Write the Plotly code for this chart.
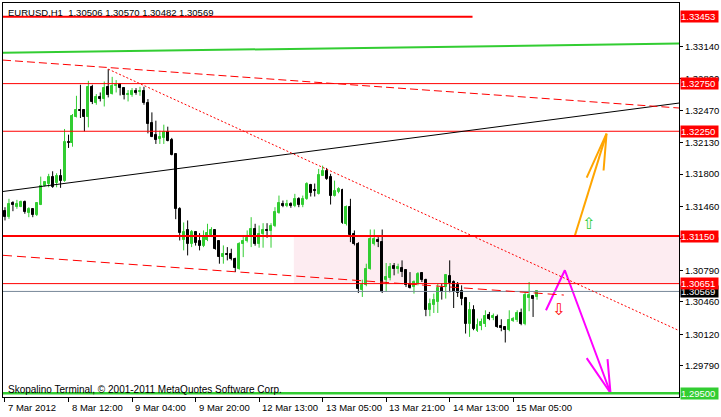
import plotly.graph_objects as go

# ---------------- data (EURUSD H1, bar index 0 = 7 Mar 2012 20:00) ----------------
opens = [1.31418,1.31348,1.31495,1.31460,1.31460,1.31505,1.31390,1.31429,1.31366,1.31481,
         1.31680,1.31698,1.31767,1.31704,1.31785,1.31725,1.32133,1.32123,1.32403,1.32473,
         1.32473,1.32395,1.32717,1.32549,1.32605,1.32584,1.32717,1.32640,1.32727,1.32745,
         1.32703,1.32626,1.32633,1.32675,1.32657,1.32675,1.32549,1.32332,1.32214,1.32169,
         1.32180,1.32238,1.32159,1.32012,1.31439,1.31104,1.31209,1.31062,1.31191,1.31097,
         1.31049,1.31104,1.31157,1.31209,1.31094,1.30929,1.30965,1.30958,1.30913,1.30808,
         1.31062,1.31097,1.31146,1.31227,1.31070,1.31167,1.31209,1.31202,1.31251,1.31390,
         1.31488,1.31468,1.31488,1.31468,1.31537,1.31471,1.31541,1.31691,1.31638,1.31593,
         1.31785,1.31830,1.31767,1.31575,1.31610,1.31635,1.31272,1.31460,1.31167,1.31062,
         1.30588,1.30633,1.30808,1.31070,1.31104,1.31086,1.30685,1.30714,1.30832,1.30808,
         1.30818,1.30790,1.30651,1.30615,1.30651,1.30762,1.30693,1.30371,1.30424,1.30458,
         1.30609,1.30615,1.30727,1.30668,1.30633,1.30570,1.30500,1.30232,1.30371,1.30151,
         1.30207,1.30232,1.30319,1.30291,1.30301,1.30207,1.30196,1.30162,1.30256,1.30267,
         1.30347,1.30232,1.30500,1.30518,1.30506]
highs = [1.31453,1.31541,1.31516,1.31530,1.31523,1.31523,1.31453,1.31435,1.31505,1.31774,
         1.31725,1.31803,1.31830,1.31809,1.31851,1.32274,1.32214,1.32431,1.32622,1.32738,
         1.32478,1.32779,1.32738,1.32640,1.32657,1.32772,1.32902,1.32821,1.32787,1.32751,
         1.32709,1.32682,1.32703,1.32703,1.32717,1.32717,1.32588,1.32448,1.32361,1.32256,
         1.32319,1.32298,1.32180,1.32018,1.31453,1.31293,1.31314,1.31214,1.31202,1.31181,
         1.31209,1.31279,1.31243,1.31214,1.31099,1.31052,1.31034,1.31017,1.30923,1.31086,
         1.31157,1.31209,1.31348,1.31279,1.31261,1.31285,1.31285,1.31285,1.31453,1.31575,
         1.31523,1.31530,1.31505,1.31593,1.31558,1.31575,1.31715,1.31698,1.31701,1.31855,
         1.31889,1.31865,1.31803,1.31732,1.31662,1.31646,1.31471,1.31541,1.31209,1.31086,
         1.30693,1.30860,1.31219,1.31219,1.31139,1.31219,1.30867,1.30867,1.30867,1.30860,
         1.30895,1.30797,1.30772,1.30685,1.30772,1.30772,1.30703,1.30494,1.30546,1.30651,
         1.30651,1.30745,1.30895,1.30685,1.30668,1.30633,1.30511,1.30458,1.30424,1.30284,
         1.30284,1.30371,1.30354,1.30337,1.30326,1.30277,1.30200,1.30371,1.30301,1.30371,
         1.30389,1.30563,1.30668,1.30522,1.30570]
lows = [1.31314,1.31331,1.31411,1.31436,1.31453,1.31384,1.31348,1.31348,1.31360,1.31475,
        1.31670,1.31662,1.31656,1.31662,1.31656,1.31720,1.32075,1.32088,1.32395,1.32389,
        1.32249,1.32291,1.32535,1.32528,1.32563,1.32510,1.32605,1.32635,1.32657,1.32626,
        1.32584,1.32563,1.32612,1.32633,1.32622,1.32528,1.32228,1.32188,1.32117,1.32117,
        1.32117,1.32144,1.31997,1.31327,1.31104,1.31000,1.30947,1.31034,1.31050,1.31000,
        1.31034,1.31097,1.31139,1.31007,1.30860,1.30860,1.30895,1.30895,1.30772,1.30797,
        1.30929,1.31083,1.31034,1.31049,1.31028,1.31028,1.31132,1.31028,1.31244,1.31384,
        1.31453,1.31453,1.31447,1.31453,1.31453,1.31453,1.31530,1.31565,1.31565,1.31586,
        1.31780,1.31740,1.31481,1.31565,1.31599,1.31279,1.31261,1.31086,1.31052,1.30552,
        1.30511,1.30623,1.30797,1.31052,1.31034,1.30552,1.30563,1.30685,1.30738,1.30756,
        1.30720,1.30615,1.30599,1.30546,1.30633,1.30668,1.30309,1.30309,1.30343,1.30343,
        1.30483,1.30494,1.30560,1.30395,1.30511,1.30424,1.30127,1.30092,1.30162,1.30144,
        1.30162,1.30196,1.30267,1.30267,1.30186,1.30151,1.30033,1.30151,1.30249,1.30249,
        1.30214,1.30214,1.30361,1.30301,1.30482]
closes = [1.31348,1.31488,1.31474,1.31488,1.31505,1.31400,1.31429,1.31366,1.31495,1.31680,
          1.31715,1.31767,1.31670,1.31785,1.31725,1.32133,1.32123,1.32413,1.32473,1.32458,
          1.32395,1.32717,1.32552,1.32612,1.32584,1.32703,1.32633,1.32727,1.32738,1.32703,
          1.32626,1.32640,1.32675,1.32654,1.32675,1.32542,1.32326,1.32193,1.32162,1.32186,
          1.32238,1.32151,1.32005,1.31432,1.31178,1.31188,1.31062,1.31191,1.31076,1.31049,
          1.31139,1.31181,1.31209,1.31017,1.30929,1.30958,1.30947,1.30905,1.30818,1.31070,
          1.31097,1.31132,1.31227,1.31070,1.31174,1.31216,1.31202,1.31251,1.31400,1.31495,
          1.31468,1.31488,1.31468,1.31537,1.31471,1.31541,1.31698,1.31599,1.31628,1.31795,
          1.31830,1.31750,1.31575,1.31628,1.31646,1.31285,1.31460,1.31157,1.31062,1.30599,
          1.30633,1.30808,1.31122,1.31122,1.31086,1.30563,1.30720,1.30825,1.30808,1.30825,
          1.30772,1.30633,1.30609,1.30668,1.30756,1.30685,1.30371,1.30434,1.30476,1.30609,
          1.30563,1.30738,1.30654,1.30563,1.30557,1.30494,1.30232,1.30371,1.30172,1.30214,
          1.30249,1.30312,1.30277,1.30312,1.30196,1.30186,1.30162,1.30267,1.30284,1.30347,
          1.30222,1.30528,1.30528,1.30487,1.30569]

x_label_bars = [0, 16, 32, 48, 64, 80, 96, 112, 128]
x_labels = ["7 Mar 2012", "8 Mar 12:00", "9 Mar 04:00", "9 Mar 20:00", "12 Mar 13:00",
            "13 Mar 05:00", "13 Mar 21:00", "14 Mar 13:00", "15 Mar 05:00"]
y_ticks = [1.33140, 1.32800, 1.32470, 1.32130, 1.31800, 1.31460, 1.31120,
           1.30790, 1.30460, 1.30120, 1.29790, 1.29450]

title_text = "EURUSD,H1\u00a0\u00a01.30506 1.30570 1.30482 1.30569"
footer_text = "Skopalino Terminal, \u00a9 2001-2011 MetaQuotes Software Corp."

# horizontal levels
red_levels = [1.32750, 1.32250, 1.30651]
red_thick_level = 1.31150
top_red_level = 1.33453
top_red_end_bar = 117.75
bid_level = 1.30569
green_target = 1.29500
zone_start_bar = 72.75
zone_low, zone_high = 1.30651, 1.31150

# trend lines (bar index, price)
green_trend = ([-0.5, 169.75], [1.33073, 1.33170])
black_trend = ([-0.5, 169.75], [1.31618, 1.32546])
red_dash_upper = ([-0.5, 169.75], [1.32997, 1.32494])
red_dash_lower = ([-0.5, 140.75], [1.30948, 1.30531])
red_dot = ([26, 169.75], [1.32902, 1.30158])

# forecast arrows (bar index, price)
orange_x = [143.5, 151.5, None, 146.5, 151.5, 150.75]
orange_y = [1.31150, 1.32225, None, 1.31764, 1.32225, 1.31838]
magenta_x = [136.25, 141.0, 152.5, None, 146.5, 152.5, 151.75]
magenta_y = [1.30372, 1.30791, 1.29503, None, 1.29869, 1.29503, 1.29859]
up_icon = (147.0, 1.31283)
down_icon = (139.5, 1.30382)

Y_MIN, Y_MAX = 1.29461, 1.33596
X_MIN, X_MAX = -0.5, 169.75
GREEN = "#32CD32"
RED = "#FF0000"
FONT = "Liberation Sans"

fig = go.Figure()

# wicks
for up, color in [(True, GREEN), (False, "#000000")]:
    wx, wy = [], []
    for i, (o, h, l, c) in enumerate(zip(opens, highs, lows, closes)):
        if (c >= o) == up:
            wx += [i, i, None]
            wy += [l, h, None]
    fig.add_trace(go.Scatter(x=wx, y=wy, mode="lines", line=dict(color=color, width=1),
                             hoverinfo="skip", showlegend=False))

# bodies
for up, color in [(True, GREEN), (False, "#000000")]:
    bx, bb, bh = [], [], []
    for i, (o, c) in enumerate(zip(opens, closes)):
        if (c >= o) == up:
            bx.append(i)
            bb.append(min(o, c))
            bh.append(abs(c - o))
    fig.add_trace(go.Bar(x=bx, y=bh, base=bb, width=0.5,
                         marker=dict(color=color, line=dict(color=color, width=1)),
                         hoverinfo="skip", showlegend=False))

shapes = []
# pink zone
shapes.append(dict(type="rect", xref="x", yref="y", x0=zone_start_bar, x1=X_MAX,
                   y0=zone_low, y1=zone_high, fillcolor="#FDECF1", line=dict(width=0),
                   layer="below"))


def hline(y, color, width, x0=X_MIN, x1=X_MAX, dash="solid"):
    shapes.append(dict(type="line", xref="x", yref="y", x0=x0, x1=x1, y0=y, y1=y,
                       line=dict(color=color, width=width, dash=dash), layer="above"))


def seg(pts, color, width, dash="solid"):
    xs, ys = pts
    shapes.append(dict(type="line", xref="x", yref="y", x0=xs[0], x1=xs[1], y0=ys[0], y1=ys[1],
                       line=dict(color=color, width=width, dash=dash), layer="above"))


hline(top_red_level, RED, 2, x1=top_red_end_bar)
for lv in red_levels:
    hline(lv, RED, 1)
hline(red_thick_level, RED, 2)
hline(bid_level, "#778899", 1)
hline(green_target, GREEN, 2.5)
seg(green_trend, GREEN, 2)
seg(black_trend, "#000000", 1)
seg(red_dash_upper, RED, 1, dash="8px,4px")
seg(red_dash_lower, RED, 1, dash="9px,5px")
seg(red_dot, RED, 1, dash="2px,2px")

fig.add_trace(go.Scatter(x=orange_x, y=orange_y, mode="lines",
                         line=dict(color="#FFA500", width=2), hoverinfo="skip", showlegend=False))
fig.add_trace(go.Scatter(x=magenta_x, y=magenta_y, mode="lines",
                         line=dict(color="#FF00FF", width=2), hoverinfo="skip", showlegend=False))

annotations = []
annotations.append(dict(x=up_icon[0], y=up_icon[1], xref="x", yref="y", text="\u21e7",
                        showarrow=False, font=dict(family="DejaVu Sans", size=16, color=GREEN)))
annotations.append(dict(x=down_icon[0], y=down_icon[1], xref="x", yref="y", text="\u21e9",
                        showarrow=False, font=dict(family="DejaVu Sans", size=16, color=RED)))

# title and footer
annotations.append(dict(x=0, y=1, xref="paper", yref="paper", xanchor="left", yanchor="top",
                        xshift=3, yshift=-2, text=title_text, showarrow=False,
                        font=dict(family=FONT, size=9.5, color="#000000")))
annotations.append(dict(x=0, y=0, xref="paper", yref="paper", xanchor="left", yanchor="bottom",
                        xshift=3, yshift=0, text=footer_text, showarrow=False,
                        font=dict(family=FONT, size=10, color="#000000")))

# time labels
for b, t in zip(x_label_bars, x_labels):
    annotations.append(dict(x=b, y=0, xref="x", yref="paper", xanchor="left", yanchor="top",
                            xshift=1, yshift=-3, text=t, showarrow=False,
                            font=dict(family=FONT, size=9.5, color="#000000")))

# price boxes on the right axis
boxes = [(top_red_level, RED), (red_levels[0], RED), (red_levels[1], RED),
         (red_thick_level, RED), (bid_level, "#000000"), (red_levels[2], RED),
         (green_target, GREEN)]
for lv, bg in boxes:
    annotations.append(dict(x=1, y=lv, xref="paper", yref="y", xanchor="left", yanchor="middle",
                            xshift=1, text=f"{lv:.5f}", showarrow=False, bgcolor=bg,
                            width=37, height=11, align="left", borderpad=0,
                            font=dict(family=FONT, size=9.5, color="#FFFFFF")))

fig.update_layout(
    width=721, height=417,
    margin=dict(l=2, r=38, t=2, b=20, pad=0),
    paper_bgcolor="#FFFFFF", plot_bgcolor="#FFFFFF",
    barmode="overlay", bargap=0,
    shapes=shapes, annotations=annotations, showlegend=False,
    xaxis=dict(range=[X_MIN, X_MAX], showgrid=False, zeroline=False, showline=True, mirror=True,
               linecolor="#000000", linewidth=1, ticks="outside", ticklen=4, tickcolor="#000000",
               tickvals=x_label_bars, showticklabels=False, fixedrange=True),
    yaxis=dict(range=[Y_MIN, Y_MAX], side="right", showgrid=False, zeroline=False, showline=True,
               mirror=True, linecolor="#000000", linewidth=1, ticks="outside", ticklen=3,
               tickcolor="#000000", tickvals=y_ticks, ticktext=[f"{v:.5f}" for v in y_ticks],
               tickfont=dict(family=FONT, size=9.5, color="#000000"), fixedrange=True),
)

fig.write_html("out.html", config={"displayModeBar": False},
               post_script="document.body.style.margin='0';document.body.style.padding='0';")
